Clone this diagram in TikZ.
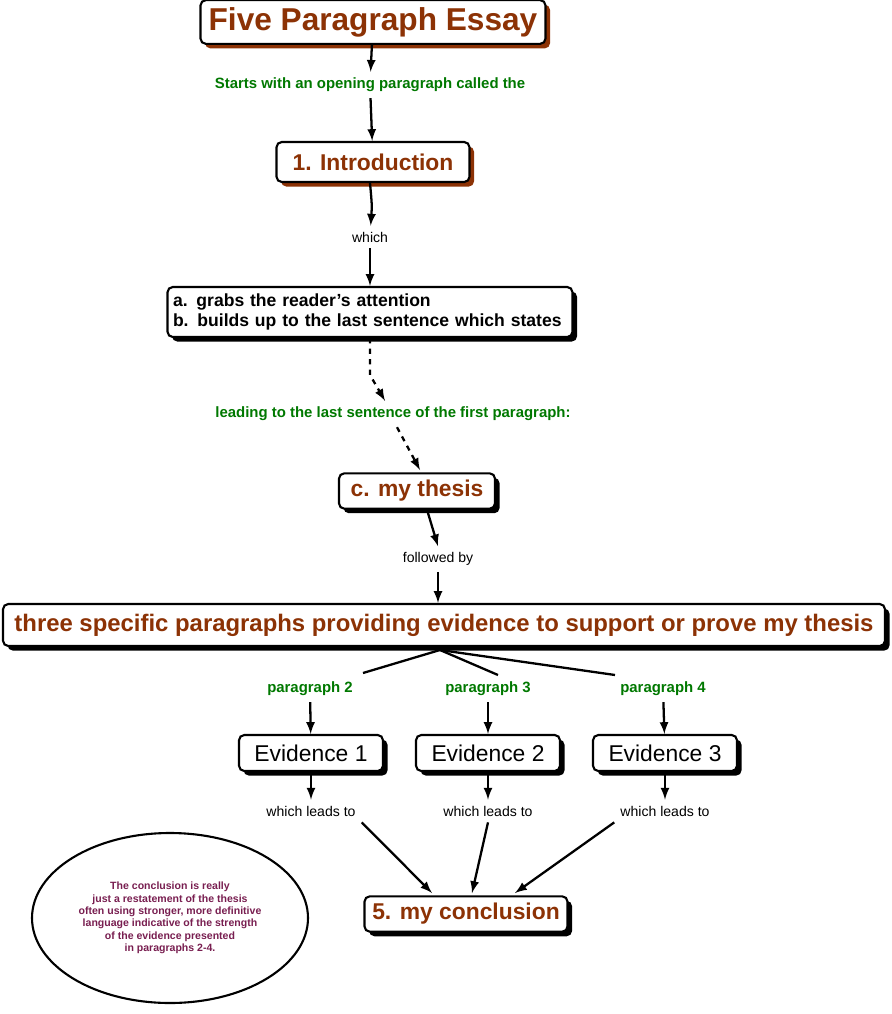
\documentclass[tikz,border=0pt]{standalone}
\usepackage{fontspec}
\setmainfont{Liberation Sans}
\usetikzlibrary{shadows,shapes.geometric}
\definecolor{rust}{RGB}{140,50,5}
\definecolor{leaf}{RGB}{0,120,0}
\definecolor{plum}{RGB}{120,30,80}
\tikzset{
  boxed/.style={draw,line width=1.2pt,fill=white,rounded corners=3pt,inner sep=4pt},
  brownshadow/.style={boxed,drop shadow={shadow xshift=2.6pt,shadow yshift=-2.6pt,fill=rust,opacity=1}},
  blackshadow/.style={boxed,drop shadow={shadow xshift=2.6pt,shadow yshift=-2.6pt,fill=black,opacity=1}},
  lnk/.style={font=\bfseries\fontsize{8.5}{10}\selectfont,text=leaf},
  plain/.style={font=\fontsize{8}{9}\selectfont},
  arr/.style={>=latex,->,line width=1.3pt}
}
\begin{document}
\begin{tikzpicture}[x=0.02cm,y=-0.02cm]
\useasboundingbox (0,0) rectangle (892,1014);

\node[brownshadow,text=rust,font=\bfseries\fontsize{18}{20}\selectfont,minimum width=345*0.02cm,minimum height=42*0.02cm] (title) at (373,22) {Five Paragraph Essay};
\node[lnk] (starts) at (370,85) {Starts with an opening paragraph called the};
\node[brownshadow,text=rust,font=\bfseries\fontsize{13}{15}\selectfont,minimum width=193*0.02cm,minimum height=40*0.02cm] (intro) at (373,162) {1. Introduction};
\node[plain] (which) at (370,237) {which};
\node[blackshadow,font=\bfseries\fontsize{10}{11.5}\selectfont,align=left,minimum width=405*0.02cm,minimum height=50*0.02cm,text width=394*0.02cm,inner sep=2pt] (grabs) at (370,312) {a. grabs the reader's attention\\b. builds up to the last sentence which states};
\node[lnk] (leading) at (393,414) {leading to the last sentence of the first paragraph:};
\node[blackshadow,text=rust,font=\bfseries\fontsize{13}{15}\selectfont,minimum width=156*0.02cm,minimum height=34*0.02cm] (thesis) at (417,491) {c. my thesis};
\node[plain] (followed) at (438,559) {followed by};
\node[blackshadow,text=rust,font=\bfseries\fontsize{13.6}{15}\selectfont,minimum width=882*0.02cm,minimum height=42*0.02cm,inner sep=2pt] (three) at (444,625) {three specific paragraphs providing evidence to support or prove my thesis};

\foreach \n/\x in {2/310,3/488,4/663}{
  \node[lnk] (para\n) at (\x,689) {paragraph \n};
}
\foreach \n/\x in {1/311,2/488,3/665}{
  \node[blackshadow,font=\fontsize{13}{15}\selectfont,minimum width=144*0.02cm,minimum height=36*0.02cm] (ev\n) at (\x,753) {Evidence \n};
  \node[plain] (leads\n) at (\x,811) {which leads to};
}
\node[blackshadow,text=rust,font=\bfseries\fontsize{13}{15}\selectfont,minimum width=203*0.02cm,minimum height=34*0.02cm] (concl) at (466,914) {5. my conclusion};

\node[draw,line width=1.2pt,ellipse,minimum width=276*0.02cm,minimum height=170*0.02cm,text=plum,font=\bfseries\fontsize{6}{7}\selectfont,align=center] (note) at (170,918) {The conclusion is really\\just a restatement of the thesis\\often using stronger, more definitive\\language indicative of the strength\\of the evidence presented\\in paragraphs 2-4.};

\coordinate (bend) at (370,375);
\draw[arr] (title) -- (starts);
\draw[arr] (starts) -- (intro);
\draw[arr] (intro.south -| which) .. controls (372,205) .. (which);
\draw[arr] (which) -- (grabs);
\draw[arr,dashed] (grabs.south -| bend) -- (bend) -- (leading.north -| 385,0);
\draw[arr,dashed] (leading.south -| 397,0) -- (420,470);
\draw[arr] (thesis.south -| 427,0) -- (followed.north -| 438,0);
\draw[arr] (followed) -- (three.north -| followed);
\coordinate (hub) at (440,650);
\draw[line width=1.3pt] (hub) -- (363,673);
\draw[line width=1.3pt] (hub) -- (498,675);
\draw[line width=1.3pt] (hub) -- (615,675);
\foreach \n/\e in {2/1,3/2,4/3}{
  \draw[arr] (para\n) -- (ev\e);
}
\foreach \n in {1,2,3}{
  \draw[arr] (ev\n) -- (leads\n);
}
\draw[arr] (leads1.south east) -- (432,893);
\draw[arr] (leads2.south) -- (472,893);
\draw[arr] (leads3.south west) -- (515,893);
\end{tikzpicture}
\end{document}
